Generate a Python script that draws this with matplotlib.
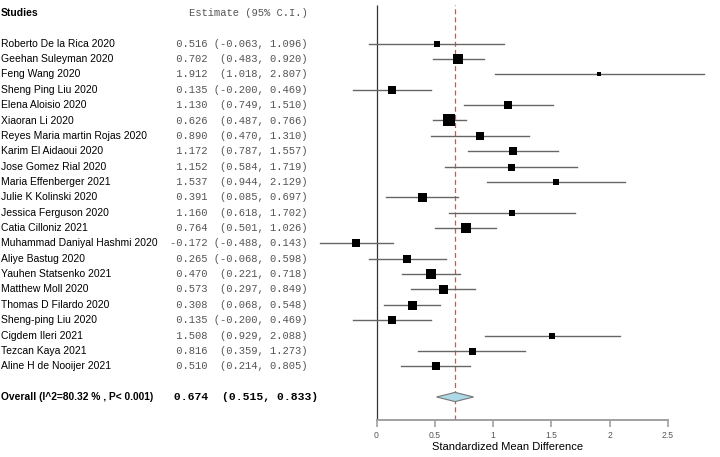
import matplotlib
matplotlib.use("Agg")
import matplotlib.pyplot as plt
import matplotlib.transforms as mtransforms
from matplotlib.patches import Polygon

studies = ["Roberto De la Rica 2020", "Geehan Suleyman 2020", "Feng Wang 2020",
           "Sheng Ping Liu 2020", "Elena Aloisio 2020", "Xiaoran Li 2020",
           "Reyes Maria martin Rojas 2020", "Karim El Aidaoui 2020", "Jose Gomez Rial 2020",
           "Maria Effenberger 2021", "Julie K Kolinski 2020", "Jessica Ferguson 2020",
           "Catia Cilloniz 2021", "Muhammad Daniyal Hashmi 2020", "Aliye Bastug 2020",
           "Yauhen Statsenko 2021", "Matthew Moll 2020", "Thomas D Filardo 2020",
           "Sheng-ping Liu 2020", "Cigdem Ileri 2021", "Tezcan Kaya 2021",
           "Aline H de Nooijer 2021"]
estimates = [0.516, 0.702, 1.912, 0.135, 1.130, 0.626, 0.890, 1.172, 1.152, 1.537,
             0.391, 1.160, 0.764, -0.172, 0.265, 0.470, 0.573, 0.308, 0.135, 1.508,
             0.816, 0.510]
lower = [-0.063, 0.483, 1.018, -0.200, 0.749, 0.487, 0.470, 0.787, 0.584, 0.944,
         0.085, 0.618, 0.501, -0.488, -0.068, 0.221, 0.297, 0.068, -0.200, 0.929,
         0.359, 0.214]
upper = [1.096, 0.920, 2.807, 0.469, 1.510, 0.766, 1.310, 1.557, 1.719, 2.129,
         0.697, 1.702, 1.026, 0.143, 0.598, 0.718, 0.849, 0.548, 0.469, 2.088,
         1.273, 0.805]
# relative study weights
weights = [6.5, 10, 5, 8, 8, 12.5, 7.5, 8, 7, 6, 9, 6.5, 9.5, 8.5, 8.5, 10, 9, 9,
           8, 6, 7, 8.5]
overall_label = "Overall (I^2=80.32 % , P< 0.001)"
overall = [0.674, 0.515, 0.833]
xticks = [0, 0.5, 1, 1.5, 2, 2.5]
xtick_labels = ["0", "0.5", "1", "1.5", "2", "2.5"]

W, H = 720, 457
fig = plt.figure(figsize=(W / 100, H / 100), dpi=100)

# axes placement (pixels)
ax_left, ax_right, ax_top, ax_bottom = 300, 715, 5, 420
ax = fig.add_axes([ax_left / W, (H - ax_bottom) / H,
                   (ax_right - ax_left) / W, (ax_bottom - ax_top) / H])
x0_px, x25_px = 376.5, 668
scale = (x25_px - x0_px) / 2.5
ax.set_xlim((ax_left - x0_px) / scale, (ax_right - x0_px) / scale)
row_top_px, row_step = 43.7, 15.36
ax.set_ylim(-(ax_bottom - row_top_px) / row_step, (row_top_px - ax_top) / row_step)

n = len(studies)
ys = [-i for i in range(n)]
y_overall = -(n + 1)
y_header = 2

for spine in ["top", "right", "left"]:
    ax.spines[spine].set_visible(False)
ax.spines["bottom"].set_bounds(0, 2.5)
ax.spines["bottom"].set_color("#a0a0a0")
ax.spines["bottom"].set_linewidth(1.4)
ax.set_yticks([])
ax.set_xticks(xticks)
ax.set_xticklabels(xtick_labels, fontsize=6.2, color="#555555",
                   family="Liberation Sans")
ax.tick_params(axis="x", length=5, color="#a0a0a0", width=1.2, pad=3)
ax.set_xlabel("Standardized Mean Difference", fontsize=8, family="Liberation Sans",
              labelpad=1)

# reference lines
ylo, yhi = ax.get_ylim()
ax.plot([0, 0], [ylo, yhi], color="#333333", lw=0.9, solid_capstyle="butt")
ax.plot([overall[0], overall[0]], [ylo, yhi], color="#ff4040", lw=0.9,
        ls=(0, (4, 2.5)))

# studies
for y, e, lo, hi, w in zip(ys, estimates, lower, upper, weights):
    ax.plot([lo, hi], [y, y], color="#666666", lw=1.0, zorder=2)
    ax.plot([e], [y], marker="s", color="black", markersize=w * 0.72, zorder=3,
            markeredgewidth=0)

# diamond
dh = 0.3
diamond = Polygon([[overall[1], y_overall], [overall[0], y_overall + dh],
                   [overall[2], y_overall], [overall[0], y_overall - dh]],
                  closed=True, facecolor="#add8e6", edgecolor="#777777", lw=0.8,
                  zorder=3)
ax.add_patch(diamond)

# text columns
tr = mtransforms.blended_transform_factory(fig.transFigure, ax.transData)
name_x = 1.0 / W
est_x = 308 / W
name_fs = 7.5
mono_fs = 7.6
fig.text(name_x, y_header, "Studies", transform=tr, fontsize=name_fs, weight="bold",
         family="Liberation Sans", va="center", ha="left")
fig.text(est_x, y_header, "Estimate (95% C.I.)", transform=tr, fontsize=mono_fs,
         family="Liberation Mono", color="#555555", va="center", ha="right")


def fmt(e, lo, hi):
    ci = f"({lo:.3f}, {hi:.3f})"
    return f"{e:6.3f} " + ci.rjust(15)


for y, s, e, lo, hi in zip(ys, studies, estimates, lower, upper):
    fig.text(name_x, y, s, transform=tr, fontsize=name_fs, family="Liberation Sans",
             va="center", ha="left")
    fig.text(est_x, y, fmt(e, lo, hi), transform=tr, fontsize=mono_fs,
             family="Liberation Mono", color="#555555", va="center", ha="right")

fig.text(name_x, y_overall, overall_label, transform=tr, fontsize=7.4,
         weight="bold", family="Liberation Sans", va="center", ha="left")
fig.text(318 / W, y_overall, fmt(*overall), transform=tr, fontsize=8.2,
         weight="bold", family="Liberation Mono", color="black", va="center",
         ha="right")

fig.savefig("out.png", dpi=100)
